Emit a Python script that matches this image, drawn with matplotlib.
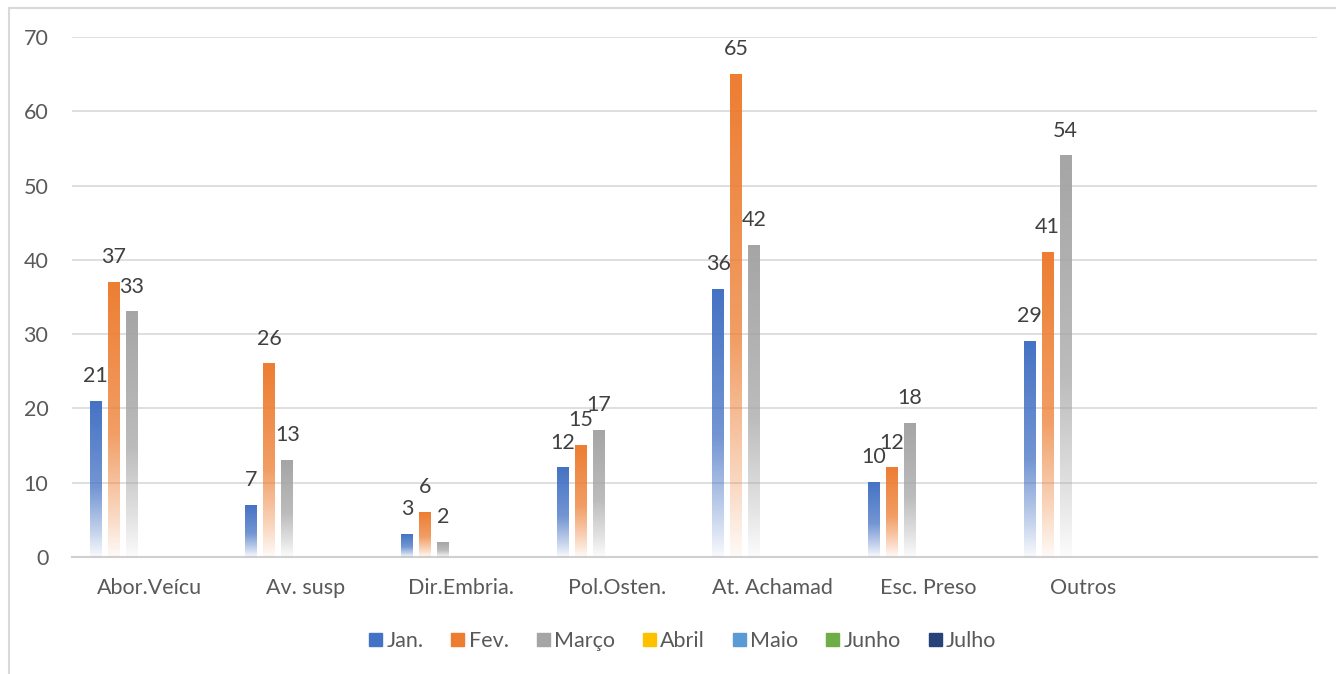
import numpy as np
import matplotlib.pyplot as plt
from matplotlib.patches import Rectangle
from matplotlib.colors import to_rgb

plt.rcParams['font.family'] = ['Lato', 'DejaVu Sans']

categories = ['Abor.Veícu', 'Av. susp', 'Dir.Embria.', 'Pol.Osten.', 'At. Achamad', 'Esc. Preso', 'Outros', '']
months = ['Jan.', 'Fev.', 'Março', 'Abril', 'Maio', 'Junho', 'Julho']
jan = [21, 7, 3, 12, 36, 10, 29, None]
fev = [37, 26, 6, 15, 65, 12, 41, None]
marco = [33, 13, 2, 17, 42, 18, 54, None]
empty = [None] * 8
series = [jan, fev, marco, empty, empty, empty, empty]
colors = ['#4472C4', '#ED7D31', '#A5A5A5', '#FFC000', '#5B9BD5', '#70AD47', '#264478']

fig = plt.figure(figsize=(13.36, 6.74), dpi=100)
ax = fig.add_axes([0.0539, 0.1736, 0.9319, 0.7715])

# gradient: solid at top, fading to white near the bottom
t = np.linspace(0, 1, 200)
alpha = np.interp(t, [0, 0.55, 0.85, 1.0], [1.0, 0.75, 0.3, 0.04])

step = 0.1157
width = 0.077
x = np.arange(len(categories))
for j, (vals, c) in enumerate(zip(series, colors)):
    h = [v if v is not None else 0 for v in vals]
    bars = ax.bar(x + (j - 3) * step, h, width, color='none', zorder=3)
    rgb = to_rgb(c)
    img = np.zeros((len(t), 1, 4))
    img[:, 0, :3] = rgb
    img[:, 0, 3] = alpha
    for b, v in zip(bars, vals):
        if v is None:
            continue
        ax.imshow(img, extent=[b.get_x(), b.get_x() + b.get_width(), 0, b.get_height()],
                  aspect='auto', origin='upper', zorder=3, interpolation='bilinear')
        ax.annotate(str(v), (b.get_x() + b.get_width() / 2, v), xytext=(0, 11),
                    textcoords='offset points', ha='center', va='bottom',
                    fontsize=15.5, color='#404040', zorder=4)

ax.set_xlim(-0.5, 7.5)
ax.set_ylim(0, 70)
ax.set_yticks(range(0, 71, 10))
ax.set_xticks(x)
ax.set_xticklabels(categories)
ax.tick_params(length=0, labelsize=15.5, labelcolor='#595959')
ax.tick_params(axis='x', pad=15)
ax.tick_params(axis='y', pad=17)
ax.grid(axis='y', color='#D9D9D9', linewidth=1.2, zorder=0)
for s in ['left', 'right', 'top']:
    ax.spines[s].set_visible(False)
ax.spines['bottom'].set_color('#D0D0D0')
ax.spines['bottom'].set_linewidth(1.5)

handles = [Rectangle((0, 0), 1, 1, color=c) for c in colors]
fig.legend(handles, months, loc='center', bbox_to_anchor=(0.511, 0.049), ncol=7,
           frameon=False, fontsize=15.5, handlelength=0.6, handleheight=0.6,
           handletextpad=0.2, columnspacing=1.3, labelcolor='#595959')

# chart border
fig.patches.append(Rectangle((9 / 1336, -0.1), 1.2, 666 / 674 + 0.1, transform=fig.transFigure,
                             fill=False, edgecolor='#D9D9D9', linewidth=1.5))

fig.savefig('out.png', dpi=100)
